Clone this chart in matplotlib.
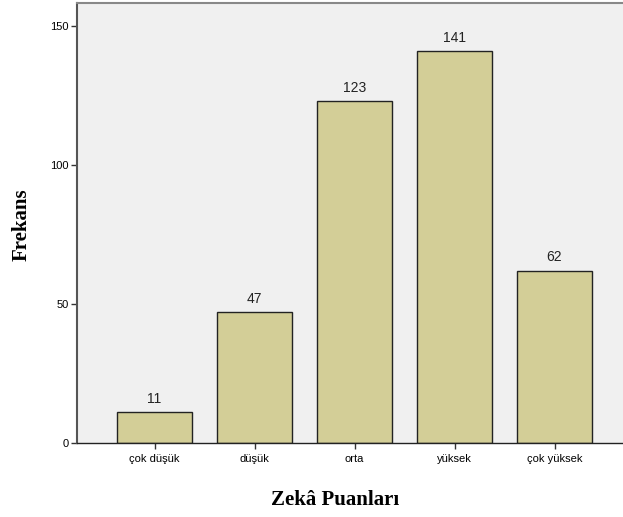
import numpy as np
import matplotlib.pyplot as plt

# veriler
kategoriler = ["çok düşük", "düşük", "orta", "yüksek", "çok yüksek"]
frekans = [11, 47, 123, 141, 62]
y_ticks = [0, 50, 100, 150]

fig = plt.figure(figsize=(6.23, 5.17), dpi=100)
ax = fig.add_axes([77/623, 1 - 443/517, 556/623, (443 - 3)/517])
ax.set_facecolor("#F0F0F0")

x = np.arange(len(kategoriler))
bars = ax.bar(x, frekans, width=0.75, color="#D3CE97", edgecolor="#222222", linewidth=1.0, zorder=2)

for xi, v in zip(x, frekans):
    ax.text(xi, v + 2.3, str(v), ha="center", va="bottom", fontsize=10, family="Liberation Sans", color="#222222")

ax.set_xlim(-0.775, 4.785)
ax.set_ylim(0, 158.3)
ax.set_xticks(x)
ax.set_xticklabels(kategoriler, fontsize=8, family="Liberation Sans")
ax.set_yticks(y_ticks)
ax.set_yticklabels([str(t) for t in y_ticks], fontsize=8, family="Liberation Sans")
ax.tick_params(axis="both", length=4, width=1, color="#333333", pad=2)
ax.tick_params(axis="x", pad=4)

ax.spines["right"].set_visible(False)
ax.spines["left"].set_color("#555555")
ax.spines["left"].set_linewidth(1.5)
ax.spines["top"].set_color("#888888")
ax.spines["top"].set_linewidth(1.5)
ax.spines["bottom"].set_color("#222222")
ax.spines["bottom"].set_linewidth(1.0)
ax.spines["bottom"].set_zorder(3)

fig.text(335/623, 1 - 500/517, "Zekâ Puanları", ha="center", va="center",
         fontsize=15, fontweight="bold", family="Liberation Serif")
fig.text(22/623, 1 - 225/517, "Frekans", ha="center", va="center", rotation=90,
         fontsize=15, fontweight="bold", family="Liberation Serif")

fig.savefig("out.png", dpi=100)
